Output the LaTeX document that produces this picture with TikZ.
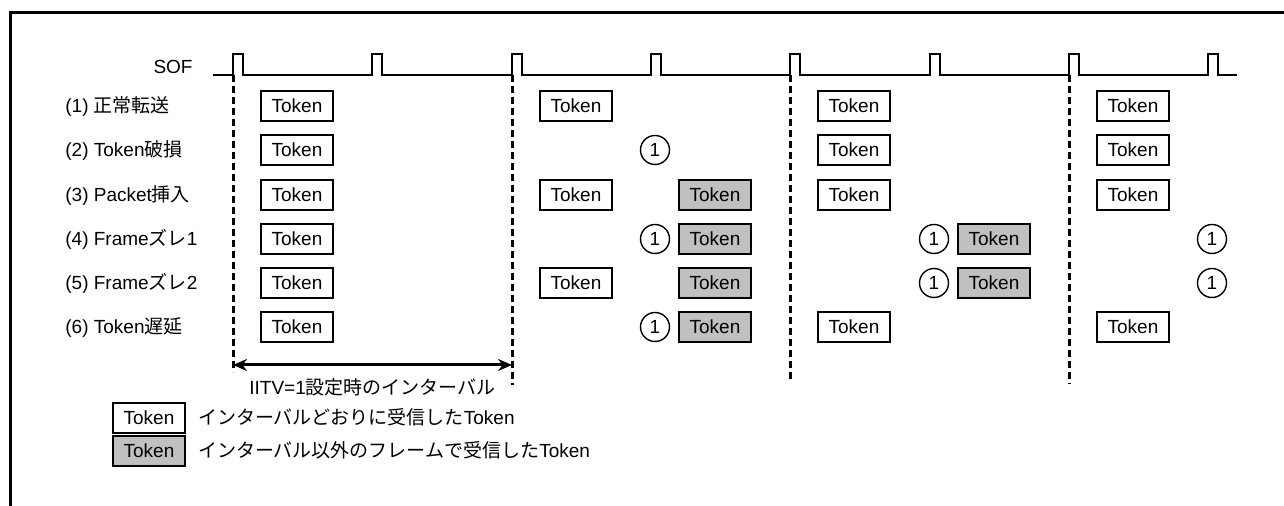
\documentclass[tikz,border=0pt]{standalone}
\usepackage{fontspec}
\setmainfont{Liberation Sans}
\newfontfamily\jpfont{Noto Sans CJK JP}
\definecolor{lategray}{RGB}{192, 192, 192}
\usepackage{tikz}
\usetikzlibrary{arrows.meta, positioning}
\newcommand{\jp}[1]{{\jpfont #1}}

\begin{document}
\begin{tikzpicture}[x=0.5pt, y=-0.5pt, font=\fontsize{9.5}{11}\selectfont,
    token/.style={draw, line width=0.7pt, minimum width=36pt, minimum height=15pt, inner sep=0pt},
    late/.style={token, fill=lategray},
    miss/.style={draw, circle, line width=0.7pt, minimum size=14.5pt, inner sep=0pt},
    rowlabel/.style={anchor=west, inner sep=0pt, text height=6.8pt, text depth=0pt},
    frameline/.style={line width=1.5pt, dash pattern=on 3.5pt off 2pt}]
  \useasboundingbox (0,0) rectangle (1284,506);
  \draw[line width=1.5pt] (1284,13) -- (10,13) -- (10,506);

  % SOF
  \node[anchor=east, inner sep=0pt] (sof) at (193,67) {SOF};
  \draw[line width=1pt] (213,75)
    \foreach \p in {233,372,512,651,790,930,1069,1208} { -- (\p,75) -- (\p,54) -- (\p+10,54) -- (\p+10,75) }
    -- (1237,75);

  % interval borders
  \coordinate (f0) at (233,75);  \coordinate (f0end) at (233,372);
  \coordinate (f1) at (512,75);  \coordinate (f1end) at (512,385);
  \coordinate (f2) at (790,75);  \coordinate (f2end) at (790,382);
  \coordinate (f3) at (1069,75); \coordinate (f3end) at (1069,384);
  \draw[frameline] (f0) -- (f0end);
  \draw[frameline] (f1) -- (f1end);
  \draw[frameline] (f2) -- (f2end);
  \draw[frameline] (f3) -- (f3end);

  % rows
  \node[rowlabel] (lab1) at (65,106) {(1) \jp{正常転送}};
  \node[token] (t1a) at (297,106) {Token};
  \node[token] (t1b) at (576,106) {Token};
  \node[token] (t1c) at (854,106) {Token};
  \node[token] (t1d) at (1133,106) {Token};

  \node[rowlabel] (lab2) at (65,150) {(2) Token\jp{破損}};
  \node[token] (t2a) at (297,150) {Token};
  \node[miss] (m2b) at (655,150) {1};
  \node[token] (t2c) at (854,150) {Token};
  \node[token] (t2d) at (1133,150) {Token};

  \node[rowlabel] (lab3) at (65,195) {(3) Packet\jp{挿入}};
  \node[token] (t3a) at (297,195) {Token};
  \node[token] (t3b) at (576,195) {Token};
  \node[late] (l3b) at (715,195) {Token};
  \node[token] (t3c) at (854,195) {Token};
  \node[token] (t3d) at (1133,195) {Token};

  \node[rowlabel] (lab4) at (65,239) {(4) Frame\jp{ズレ}1};
  \node[token] (t4a) at (297,239) {Token};
  \node[miss] (m4b) at (655,239) {1};
  \node[late] (l4b) at (715,239) {Token};
  \node[miss] (m4c) at (934,239) {1};
  \node[late] (l4c) at (994,239) {Token};
  \node[miss] (m4d) at (1212,239) {1};

  \node[rowlabel] (lab5) at (65,283) {(5) Frame\jp{ズレ}2};
  \node[token] (t5a) at (297,283) {Token};
  \node[token] (t5b) at (576,283) {Token};
  \node[late] (l5b) at (715,283) {Token};
  \node[miss] (m5c) at (934,283) {1};
  \node[late] (l5c) at (994,283) {Token};
  \node[miss] (m5d) at (1212,283) {1};

  \node[rowlabel] (lab6) at (65,327) {(6) Token\jp{遅延}};
  \node[token] (t6a) at (297,327) {Token};
  \node[miss] (m6b) at (655,327) {1};
  \node[late] (l6b) at (715,327) {Token};
  \node[token] (t6c) at (854,327) {Token};
  \node[token] (t6d) at (1133,327) {Token};

  % interval arrow
  \coordinate (iv0) at (233,365);
  \coordinate (iv1) at (512,365);
  \draw[{Stealth[length=7pt, width=6pt]}-{Stealth[length=7pt, width=6pt]}, line width=1.5pt]
       (iv0) -- node[below=7pt, inner sep=0pt, text height=6.8pt, text depth=0pt]
       {IITV=1\jp{設定時のインターバル}} (iv1);

  % legend
  \node[token] (keyok) at (149,418) {Token};
  \node[right=6pt of keyok, rowlabel] (keyoktext) {\jp{インターバルどおりに受信した}Token};
  \node[late] (keylate) at (149,451) {Token};
  \node[right=6pt of keylate, rowlabel] (keylatetext) {\jp{インターバル以外のフレームで受信した}Token};
\end{tikzpicture}
\end{document}
